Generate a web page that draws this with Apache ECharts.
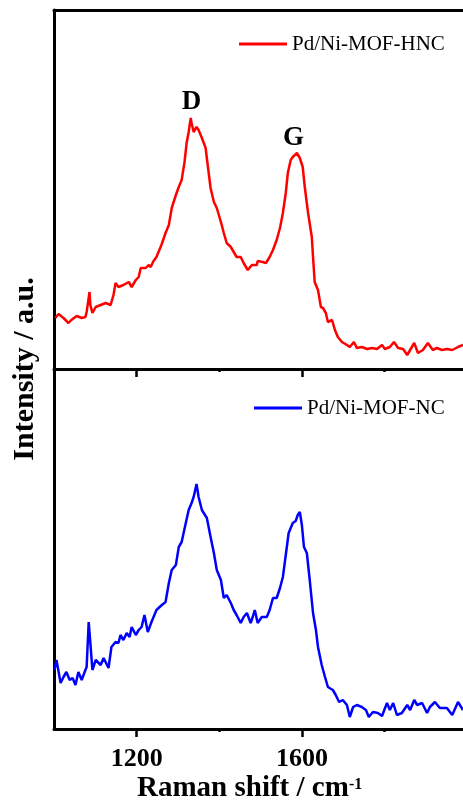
<!DOCTYPE html>
<html>
<head>
<meta charset="utf-8">
<script src="https://cdn.jsdelivr.net/npm/echarts@6/dist/echarts.min.js"></script>
<style>
  html, body { margin: 0; padding: 0; background: #fff; }
  #chart { width: 463px; height: 803px; }
</style>
</head>
<body>
<div id="chart"></div>
<script>
// Raman spectra
const hncShift = [1003, 1011, 1023, 1035, 1042, 1055, 1067, 1076, 1079, 1086, 1088, 1093, 1101, 1113, 1125, 1137, 1144, 1149, 1156, 1168,
  1181, 1188, 1198, 1205, 1210, 1222, 1229, 1234, 1241, 1248, 1260, 1270, 1278, 1285, 1295, 1302, 1309, 1316, 1321, 1326,
  1331, 1333, 1338, 1345, 1350, 1358, 1367, 1372, 1379, 1387, 1394, 1404, 1411, 1418, 1428, 1435, 1442, 1452, 1459, 1469,
  1479, 1481, 1491, 1493, 1505, 1513, 1522, 1530, 1539, 1547, 1554, 1561, 1566, 1573, 1578, 1588, 1595, 1602, 1607, 1615,
  1624, 1627, 1631, 1639, 1646, 1651, 1658, 1663, 1673, 1680, 1687, 1697, 1709, 1716, 1726, 1733, 1745, 1758, 1770, 1782,
  1794, 1801, 1813, 1823, 1833, 1845, 1855, 1862, 1872, 1881, 1893, 1905, 1917, 1927, 1939, 1951, 1964, 1978, 1990]
const hncIntensity = [51, 55, 51, 46, 49, 53, 51, 52, 57, 77, 64, 56, 62, 64, 66, 64, 74, 86, 82, 84,
  87, 82, 89, 92, 101, 101, 104, 102, 108, 112, 124, 136, 144, 161, 174, 182, 189, 207, 226, 237,
  251, 246, 237, 242, 239, 231, 221, 204, 181, 167, 161, 147, 136, 126, 122, 117, 112, 112, 106, 99,
  104, 106, 104, 108, 107, 106, 112, 119, 129, 141, 156, 176, 196, 209, 212, 216, 211, 202, 182, 156,
  132, 112, 87, 79, 62, 61, 56, 47, 49, 39, 32, 27, 24, 22, 27, 21, 22, 20, 21, 20,
  24, 20, 22, 27, 21, 20, 14, 19, 26, 16, 19, 26, 19, 21, 19, 20, 19, 22, 24]

const ncShift = [1001, 1006, 1016, 1023, 1030, 1038, 1045, 1052, 1059, 1067, 1076, 1079, 1084, 1088, 1093, 1101, 1113, 1120, 1132, 1139,
  1149, 1156, 1161, 1168, 1176, 1183, 1188, 1198, 1205, 1212, 1219, 1227, 1236, 1248, 1261, 1270, 1278, 1285, 1295, 1302,
  1309, 1319, 1326, 1333, 1338, 1345, 1350, 1358, 1370, 1379, 1387, 1394, 1404, 1411, 1418, 1428, 1435, 1442, 1452, 1459,
  1467, 1476, 1481, 1486, 1493, 1503, 1515, 1522, 1530, 1539, 1547, 1554, 1561, 1568, 1578, 1585, 1590, 1595, 1600, 1605,
  1612, 1619, 1627, 1634, 1639, 1648, 1656, 1663, 1675, 1682, 1690, 1699, 1709, 1716, 1724, 1733, 1745, 1755, 1762, 1772,
  1784, 1794, 1806, 1813, 1821, 1830, 1842, 1855, 1862, 1872, 1879, 1891, 1903, 1910, 1922, 1934, 1951, 1964, 1978, 1990]
const ncIntensity = [59, 69, 46, 52, 57, 49, 51, 44, 57, 49, 59, 62, 107, 86, 59, 69, 64, 71, 61, 82,
  87, 86, 94, 89, 96, 92, 102, 94, 99, 102, 114, 97, 107, 119, 124, 127, 146, 159, 164, 182,
  187, 206, 219, 226, 232, 245, 232, 219, 211, 192, 176, 159, 149, 131, 134, 126, 119, 114, 106, 112,
  116, 106, 112, 119, 106, 112, 112, 119, 131, 131, 141, 152, 174, 196, 206, 208, 214, 217, 204, 182,
  176, 149, 116, 99, 82, 64, 52, 42, 39, 34, 27, 29, 24, 12, 22, 24, 22, 19, 12, 17,
  16, 13, 26, 19, 26, 14, 16, 24, 19, 29, 24, 26, 16, 22, 27, 21, 21, 14, 27, 19]

const peakNames = ['D', 'G']
const peakShift = [1333, 1580]
const peakIntensity = [251, 216]

const labelTicks = [1200, 1600]
const minorTicks = [1400, 1800]

const serif = "'Times New Roman', 'Liberation Serif', serif"
const chart = echarts.init(document.getElementById('chart'))

const zip = (xs, ys) => xs.map((x, i) => [x, ys[i]])

const mainX = (gridIndex, showLabels) => ({
  type: 'value',
  gridIndex: gridIndex,
  position: 'bottom',
  min: 1000,
  max: 1990,
  axisLine: { onZero: false, lineStyle: { color: '#000', width: 3 } },
  axisTick: { customValues: labelTicks, length: 8, lineStyle: { color: '#000', width: 2.5 } },
  axisLabel: {
    show: showLabels,
    customValues: labelTicks,
    formatter: (v) => String(v),
    margin: 17,
    color: '#000',
    fontFamily: serif,
    fontWeight: 'bold',
    fontSize: 26
  },
  splitLine: { show: false }
})

const minorX = (gridIndex) => ({
  type: 'value',
  gridIndex: gridIndex,
  position: 'bottom',
  min: 1000,
  max: 1990,
  axisLine: { show: false },
  axisTick: { customValues: minorTicks, length: 3, lineStyle: { color: '#000', width: 2.5 } },
  axisLabel: { show: false },
  splitLine: { show: false }
})

const yAxisFor = (gridIndex, max) => ({
  type: 'value',
  gridIndex: gridIndex,
  min: 0,
  max: max,
  axisLine: { show: true, onZero: false, lineStyle: { color: '#000', width: 3 } },
  axisTick: { show: false },
  axisLabel: { show: false },
  splitLine: { show: false }
})

const legendFor = (name, left, top) => ({
  data: [name],
  left: left,
  top: top,
  padding: 0,
  icon: 'rect',
  itemWidth: 48,
  itemHeight: 3,
  textStyle: { fontFamily: serif, fontSize: 21, color: '#000', lineHeight: 24 }
})

const option = {
  animation: false,
  backgroundColor: '#fff',
  grid: [
    { left: 54, right: 0, top: 10, height: 359 },
    { left: 54, right: 0, top: 369, height: 360 }
  ],
  legend: [
    legendFor('Pd/Ni-MOF-HNC', 239, 32),
    legendFor('Pd/Ni-MOF-NC', 254, 396)
  ],
  xAxis: [
    mainX(0, false),
    minorX(0),
    {
      type: 'value', gridIndex: 0, position: 'top', min: 1000, max: 1990,
      axisLine: { onZero: false, lineStyle: { color: '#000', width: 3 } },
      axisTick: { show: false }, axisLabel: { show: false }, splitLine: { show: false }
    },
    mainX(1, true),
    minorX(1)
  ],
  yAxis: [yAxisFor(0, 359), yAxisFor(1, 360)],
  series: [
    {
      name: 'Pd/Ni-MOF-HNC',
      type: 'line',
      xAxisIndex: 0,
      yAxisIndex: 0,
      data: zip(hncShift, hncIntensity),
      showSymbol: false,
      color: '#ff0000',
      lineStyle: { width: 2.5 },
      markPoint: {
        symbol: 'circle',
        symbolSize: 1,
        itemStyle: { color: 'transparent' },
        label: {
          show: true,
          position: 'inside',
          formatter: '{b}',
          color: '#000',
          fontFamily: serif,
          fontWeight: 'bold',
          fontSize: 27
        },
        data: peakNames.map((n, i) => ({
          name: n,
          coord: [peakShift[i], peakIntensity[i]],
          label: { offset: [0, i === 0 ? -16 : -15] }
        }))
      }
    },
    {
      name: 'Pd/Ni-MOF-NC',
      type: 'line',
      xAxisIndex: 3,
      yAxisIndex: 1,
      data: zip(ncShift, ncIntensity),
      showSymbol: false,
      color: '#0000ff',
      lineStyle: { width: 2.5 }
    }
  ],
  graphic: [
    {
      type: 'text',
      x: 25,
      y: 369,
      rotation: Math.PI / 2,
      style: {
        text: 'Intensity / a.u.',
        font: 'bold 30px ' + serif,
        fill: '#000',
        textAlign: 'center',
        textVerticalAlign: 'middle'
      }
    },
    {
      type: 'text',
      x: 137,
      y: 789,
      style: {
        text: 'Raman shift / cm',
        font: 'bold 29px ' + serif,
        fill: '#000',
        textAlign: 'left',
        textVerticalAlign: 'middle'
      }
    },
    {
      type: 'text',
      x: 349,
      y: 785,
      style: {
        text: '-1',
        font: 'bold 16px ' + serif,
        fill: '#000',
        textAlign: 'left',
        textVerticalAlign: 'middle'
      }
    }
  ]
}

chart.setOption(option)
</script>
</body>
</html>
